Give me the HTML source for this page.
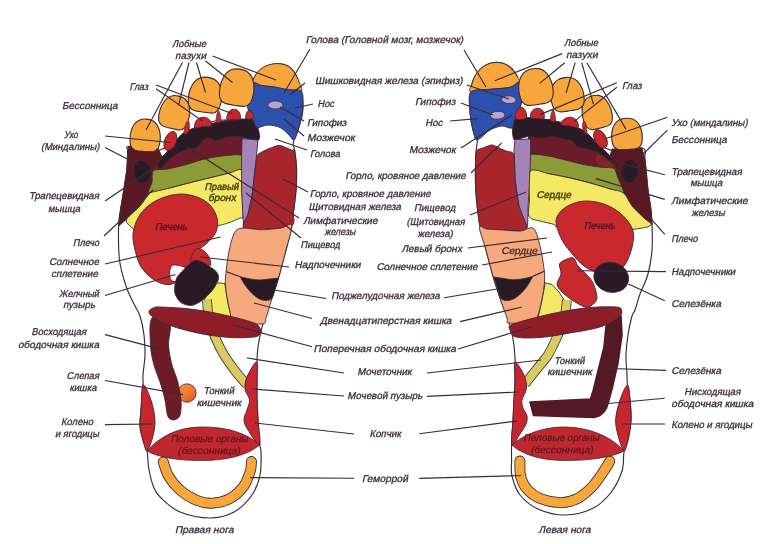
<!DOCTYPE html>
<html lang="ru"><head><meta charset="utf-8"><title>Рефлексология стопы</title>
<style>html,body{margin:0;padding:0;background:#fff;}body{width:770px;height:544px;overflow:hidden;}svg{display:block;will-change:transform;filter:blur(0.35px);}text{font-family:"Liberation Sans",sans-serif;}</style></head><body>
<svg width="770" height="544" viewBox="0 0 770 544">
<defs><linearGradient id="ball" x1="0.2" y1="0" x2="0.9" y2="1"><stop offset="0" stop-color="#f4933a"/><stop offset="0.5" stop-color="#ee7a31"/><stop offset="1" stop-color="#e2502b"/></linearGradient></defs>
<rect width="770" height="544" fill="#ffffff"/>
<g id="left-foot">
<path d="M129.5,146.5 C124.1,146.5 128.1,148.4 127.8,150.0 C127.5,151.6 127.8,152.7 127.6,156.0 C127.4,159.3 127.4,164.3 126.8,170.0 C126.2,175.7 124.8,183.3 123.8,190.0 C122.8,196.7 121.4,204.0 120.5,210.0 C119.6,216.0 118.8,217.7 118.6,226.0 C118.4,234.3 118.3,250.0 119.5,260.0 C120.7,270.0 123.6,278.7 126.0,286.0 C128.4,293.3 131.7,299.0 134.0,304.0 C136.3,309.0 138.3,310.8 140.0,316.0 C141.7,321.2 143.2,328.5 144.0,335.0 C144.8,341.5 145.2,348.3 145.0,355.0 C144.8,361.7 143.3,370.0 143.0,375.0 C142.7,380.0 143.3,379.2 143.0,385.0 C142.7,390.8 141.5,403.2 141.0,410.0 C140.5,416.8 139.7,421.0 140.0,426.0 C140.3,431.0 141.8,435.8 143.0,440.0 C144.2,444.2 146.0,446.0 147.0,451.0 C148.0,456.0 147.8,463.8 149.0,470.0 C150.2,476.2 152.0,483.3 154.0,488.0 C156.0,492.7 156.7,494.0 161.0,498.0 C165.3,502.0 171.8,508.7 180.0,512.0 C188.2,515.3 201.0,518.0 210.0,518.0 C219.0,518.0 227.0,515.8 234.0,512.0 C241.0,508.2 247.7,501.2 252.0,495.0 C256.3,488.8 258.5,482.2 260.0,475.0 C261.5,467.8 261.1,457.2 261.0,452.0 C260.9,446.8 260.1,449.3 259.6,444.0 C259.1,438.7 258.4,427.3 258.0,420.0 C257.6,412.7 257.2,406.7 257.0,400.0 C256.8,393.3 257.0,386.5 257.0,380.0 C257.0,373.5 256.8,366.5 257.0,361.0 C257.2,355.5 257.3,352.0 258.0,347.0 C258.7,342.0 259.3,337.7 261.0,331.0 C262.7,324.3 266.2,312.5 268.0,307.0 C269.8,301.5 270.2,303.2 272.0,298.0 C273.8,292.8 276.7,284.0 279.0,276.0 C281.3,268.0 283.9,258.0 286.0,250.0 C288.1,242.0 290.3,234.2 291.5,228.0 C292.7,221.8 292.7,217.7 293.3,213.0 C293.9,208.3 294.5,204.5 295.0,200.0 C295.5,195.5 296.1,191.3 296.3,186.0 C296.6,180.7 296.8,174.0 296.5,168.0 C296.2,162.0 295.2,153.8 294.6,150.0 C294.1,146.2 293.3,146.7 293.2,145.0 C293.1,143.3 293.2,142.5 294.0,140.0 C294.8,137.5 296.7,134.0 298.0,130.0 C299.3,126.0 301.2,120.3 302.0,116.0 C302.8,111.7 303.3,108.7 303.0,104.0 C302.7,99.3 301.2,92.8 300.0,88.0 C298.8,83.2 298.0,78.7 296.0,75.0 C294.0,71.3 291.2,67.9 288.0,66.0 C284.8,64.1 280.8,63.4 277.0,63.6 C273.2,63.8 268.5,65.1 265.0,67.0 C261.5,68.9 258.2,72.3 256.0,75.0 C253.8,77.7 252.9,79.2 251.6,83.0 C250.3,86.8 248.4,93.5 248.0,98.0 C247.6,102.5 248.0,106.0 249.0,110.0 C250.0,114.0 252.7,119.0 254.0,122.0 C255.3,125.0 259.3,128.3 257.0,128.0 C254.7,127.7 249.5,120.5 240.0,120.0 C230.5,119.5 213.3,120.0 200.0,125.0 C186.7,130.0 171.8,146.4 160.0,150.0 C148.2,153.6 134.9,146.5 129.5,146.5Z" fill="#ffffff" stroke="#3a2a36" stroke-width="1.15" stroke-linejoin="round" />
<path d="M129.0,146.0 L158.0,148.0 L162.0,157.0 L184.0,134.0 L204.0,125.0 L228.0,120.0 L243.0,119.0 L243.0,172.0 L149.0,193.0 L148.0,194.0 L140.0,206.0 L128.0,218.0 L118.6,226.0 L120.5,210.0 L123.8,190.0 L126.8,170.0 L127.6,156.0 L127.8,150.0Z" fill="#5b1823" stroke="#3a2a36" stroke-width="0.9" stroke-linejoin="round" />
<path d="M160.0,160.0 C163.5,155.7 170.0,149.2 175.0,145.0 C180.0,140.8 183.3,137.8 190.0,135.0 C196.7,132.2 206.3,129.5 215.0,128.0 C223.7,126.5 237.5,121.0 242.0,126.0 C246.5,131.0 245.0,152.8 242.0,158.0 C239.0,163.2 230.3,156.5 224.0,157.0 C217.7,157.5 211.3,159.2 204.0,161.0 C196.7,162.8 188.3,166.3 180.0,168.0 C171.7,169.7 157.3,172.3 154.0,171.0 C150.7,169.7 156.5,164.3 160.0,160.0Z" fill="#6b1c28" stroke="none" stroke-width="0.9" stroke-linejoin="round" />
<path d="M153.5,170.6 C155.6,168.9 163.4,169.8 167.6,169.0 C171.8,168.2 180.6,166.1 185.3,164.8 C190.0,163.5 198.3,160.5 203.0,159.4 C207.7,158.3 215.3,156.7 220.5,156.2 C225.7,155.7 239.1,153.6 242.0,155.5 C244.9,157.4 243.9,167.9 242.0,170.3 C240.1,172.7 233.1,172.3 228.0,173.5 C222.9,174.7 209.7,177.9 204.0,179.3 C198.3,180.7 190.2,182.8 185.3,184.0 C180.4,185.2 172.4,187.4 167.6,188.6 C162.8,189.8 151.1,193.9 149.0,193.0 C146.9,192.1 151.4,185.0 152.0,182.0 C152.6,179.0 151.4,172.3 153.5,170.6Z" fill="#8c9a38" stroke="#3a2a36" stroke-width="0.9" stroke-linejoin="round" />
<path d="M149.0,193.0 C152.3,191.9 161.5,190.1 167.6,188.6 C173.7,187.1 179.2,185.6 185.3,184.0 C191.4,182.4 196.9,181.1 204.0,179.3 C211.1,177.6 221.7,175.0 228.0,173.5 C234.3,172.0 239.7,167.6 242.0,170.3 C244.3,173.1 241.8,182.4 242.0,190.0 C242.2,197.6 243.3,211.3 243.0,216.0 C242.7,220.7 242.5,216.8 240.0,218.0 C237.5,219.2 232.0,221.7 228.0,223.0 C224.0,224.3 224.0,224.5 216.0,226.0 C208.0,227.5 192.7,231.1 180.0,232.0 C167.3,232.9 147.8,232.1 140.0,231.5 C132.2,230.9 135.0,229.8 133.0,228.5 C131.0,227.2 129.1,225.4 128.0,224.0 C126.9,222.6 125.8,221.6 126.3,220.0 C126.8,218.4 128.7,216.8 131.0,214.5 C133.3,212.2 137.2,209.2 140.0,206.0 C142.8,202.8 146.5,197.2 148.0,195.0 C149.5,192.8 145.7,194.1 149.0,193.0Z" fill="#f3e964" stroke="#3a2a36" stroke-width="0.9" stroke-linejoin="round" />
<path d="M157.5,164.0 C157.8,163.1 158.1,163.2 159.5,161.5 C160.9,159.8 163.3,157.2 165.9,154.0 C168.5,150.8 171.8,145.7 175.0,142.0 C178.2,138.3 180.6,134.3 185.3,131.6 C190.0,128.9 197.1,127.5 203.0,126.0 C208.9,124.5 214.6,123.3 220.5,122.3 C226.4,121.2 232.6,120.4 238.2,119.7 C243.8,119.0 250.9,118.0 254.0,118.2 C257.1,118.4 255.9,119.4 256.5,121.0 C257.1,122.6 257.3,125.4 257.8,127.6 C258.3,129.8 259.2,132.1 259.4,134.0 C259.6,135.9 260.1,137.7 259.2,139.0 C258.3,140.3 256.9,142.2 254.0,141.8 C251.1,141.4 245.8,137.7 241.7,136.8 C237.6,135.9 232.7,136.2 229.4,136.6 C226.1,137.0 224.1,138.3 222.0,139.0 C219.9,139.7 218.7,140.9 217.0,140.9 C215.3,140.9 213.5,139.6 212.0,139.0 C210.5,138.4 209.5,137.5 208.2,137.6 C206.9,137.7 205.2,138.7 204.0,139.5 C202.8,140.3 202.3,141.2 201.0,142.6 C199.7,144.0 198.5,146.8 195.9,148.0 C193.3,149.2 188.5,149.0 185.3,150.0 C182.1,151.0 179.4,152.2 176.5,154.0 C173.6,155.8 169.8,159.0 167.6,161.0 C165.3,163.0 164.2,164.8 163.0,166.0 C161.8,167.2 161.4,167.8 160.6,168.0 C159.8,168.2 158.5,167.7 158.0,167.0 C157.5,166.3 157.2,164.9 157.5,164.0Z" fill="#2a1a26" stroke="#3a2a36" stroke-width="0.9" stroke-linejoin="round" />
<ellipse cx="142" cy="171.8" rx="8.6" ry="11.7" fill="#2a1a26" stroke="#3a2a36" stroke-width="0.8" transform="rotate(-8 142 171.8)"/>
<path d="M242.0,138.5 L258.0,140.0 L255.0,170.0 L252.0,196.0 L248.0,214.0 L245.0,228.0 L243.6,228.0 L241.6,190.0 L241.6,156.0Z" fill="#a583b8" stroke="#3a2a36" stroke-width="0.9" stroke-linejoin="round" />
<path d="M257.0,157.0 C257.5,154.8 257.2,154.9 258.7,153.8 C260.2,152.7 266.0,149.9 268.0,149.0 C270.0,148.1 272.5,147.3 274.0,146.8 C275.5,146.3 277.8,145.3 279.0,145.3 C280.2,145.3 281.9,146.1 283.0,146.5 C284.1,146.9 285.6,147.5 286.9,148.0 C288.2,148.5 291.4,150.0 292.4,150.3 C293.4,150.6 294.1,147.9 294.6,150.3 C295.1,152.7 296.3,163.2 296.5,168.0 C296.7,172.8 296.5,181.7 296.3,186.0 C296.1,190.3 295.4,196.4 295.0,200.0 C294.6,203.6 293.9,209.5 293.3,213.0 C292.7,216.5 296.7,224.4 290.3,226.5 C283.9,228.6 250.6,230.2 245.0,228.5 C239.4,226.8 247.1,218.3 248.0,214.0 C248.9,209.7 251.1,201.9 252.0,196.0 C252.9,190.1 254.3,175.2 255.0,170.0 C255.7,164.8 256.5,159.2 257.0,157.0Z" fill="#a8252b" stroke="#3a2a36" stroke-width="0.9" stroke-linejoin="round" />
<path d="M252.8,82.4 C251.5,81.1 253.3,79.7 254.0,78.0 C254.7,76.3 255.7,74.2 257.0,72.5 C258.3,70.8 260.0,69.3 262.0,68.0 C264.0,66.7 266.5,65.5 269.0,64.8 C271.5,64.1 274.3,63.6 277.0,63.6 C279.7,63.6 282.7,64.0 285.0,64.8 C287.3,65.6 289.2,66.8 291.0,68.5 C292.8,70.2 294.7,72.8 296.0,75.0 C297.3,77.2 298.1,79.3 299.0,82.0 C299.9,84.7 303.2,89.8 301.2,91.0 C299.2,92.2 291.4,90.2 286.8,89.5 C282.2,88.8 277.7,87.5 273.5,86.8 C269.3,86.1 265.2,86.3 261.8,85.6 C258.4,84.9 254.1,83.7 252.8,82.4Z" fill="#f6a63a" stroke="#3a2a36" stroke-width="0.9" stroke-linejoin="round" />
<path d="M252.8,82.4 C254.7,81.5 258.7,84.9 261.8,85.6 C264.9,86.3 269.8,86.2 273.5,86.8 C277.2,87.4 282.6,88.9 286.8,89.5 C291.0,90.1 298.8,88.8 301.2,91.0 C303.6,93.2 303.0,100.2 303.0,104.0 C303.0,107.8 302.2,112.1 301.5,116.0 C300.8,119.9 299.1,126.4 298.0,130.0 C296.9,133.6 295.5,139.4 294.0,140.0 C292.5,140.6 290.1,135.9 288.0,134.0 C285.9,132.1 283.0,128.8 280.0,127.5 C277.0,126.2 271.4,125.0 268.0,125.0 C264.6,125.0 259.2,128.1 257.0,127.5 C254.8,126.9 254.8,123.5 253.5,121.0 C252.2,118.5 249.3,113.5 248.4,110.5 C247.5,107.5 247.1,103.8 247.2,101.0 C247.3,98.2 248.5,94.3 249.3,91.5 C250.1,88.7 250.9,83.3 252.8,82.4Z" fill="#2d4fae" stroke="#3a2a36" stroke-width="0.9" stroke-linejoin="round" />
<ellipse cx="275.4" cy="105" rx="7.6" ry="4" fill="#b2a6d8" stroke="#3a2a36" stroke-width="0.8"/>
<path d="M146.1,119.1 C148.3,119.2 150.6,119.6 152.4,120.6 C154.3,121.6 156.1,123.2 157.3,125.2 C158.6,127.3 159.5,130.2 159.9,132.8 C160.4,135.4 160.4,138.4 160.1,140.9 C159.8,143.5 159.3,146.2 158.2,148.0 C157.1,149.7 155.8,150.9 153.5,151.5 C151.2,152.0 147.5,151.6 144.5,151.5 C141.4,151.3 137.7,151.3 135.4,150.5 C133.2,149.7 132.0,148.4 131.1,146.6 C130.2,144.7 130.0,141.9 130.0,139.4 C129.9,136.8 130.3,133.9 131.0,131.3 C131.7,128.7 132.9,125.9 134.4,124.0 C135.9,122.1 137.8,120.7 139.8,119.9 C141.7,119.1 144.0,119.0 146.1,119.1Z" fill="#f6a63a" stroke="#3a2a36" stroke-width="1.1" stroke-linejoin="round" />
<path d="M178.9,96.1 C181.0,96.6 183.1,97.4 184.7,98.7 C186.4,100.1 187.8,102.0 188.6,104.3 C189.4,106.6 189.7,109.7 189.7,112.5 C189.6,115.2 189.0,118.2 188.2,120.7 C187.5,123.1 186.4,125.8 185.0,127.4 C183.6,128.9 182.1,129.8 179.7,130.0 C177.4,130.2 173.8,129.0 170.9,128.3 C168.0,127.6 164.3,126.9 162.3,125.6 C160.3,124.4 159.4,122.9 158.8,120.9 C158.3,118.8 158.7,116.0 159.1,113.4 C159.6,110.8 160.5,107.9 161.7,105.5 C163.0,103.1 164.7,100.4 166.5,98.8 C168.3,97.2 170.5,96.1 172.5,95.7 C174.6,95.2 176.9,95.6 178.9,96.1Z" fill="#f6a63a" stroke="#3a2a36" stroke-width="1.1" stroke-linejoin="round" />
<path d="M208.2,77.4 C210.5,77.8 213.0,78.4 214.9,79.7 C216.8,81.0 218.6,82.9 219.7,85.3 C220.8,87.6 221.5,90.9 221.7,93.7 C221.9,96.6 221.6,99.8 221.0,102.5 C220.4,105.1 219.5,108.1 218.1,109.8 C216.7,111.6 215.2,112.7 212.6,113.0 C210.1,113.4 206.0,112.5 202.8,112.0 C199.5,111.5 195.4,111.1 193.1,109.9 C190.7,108.8 189.6,107.3 188.8,105.2 C188.0,103.1 188.1,100.0 188.4,97.3 C188.6,94.6 189.3,91.4 190.4,88.8 C191.5,86.1 193.1,83.2 194.9,81.3 C196.7,79.5 199.0,78.2 201.2,77.5 C203.4,76.9 206.0,77.1 208.2,77.4Z" fill="#f6a63a" stroke="#3a2a36" stroke-width="1.1" stroke-linejoin="round" />
<path d="M240.1,69.1 C242.4,69.5 244.9,70.1 246.9,71.5 C248.9,72.9 250.7,74.9 251.9,77.3 C253.0,79.7 253.7,83.1 253.9,86.1 C254.1,89.1 253.7,92.5 253.1,95.3 C252.5,98.1 251.6,101.1 250.2,103.0 C248.8,104.8 247.1,105.9 244.5,106.3 C241.9,106.7 237.7,105.8 234.3,105.3 C231.0,104.7 226.7,104.3 224.3,103.1 C222.0,102.0 220.8,100.4 220.0,98.2 C219.2,96.0 219.3,92.8 219.6,90.0 C219.8,87.1 220.5,83.8 221.7,81.0 C222.8,78.2 224.5,75.2 226.3,73.2 C228.2,71.3 230.5,70.0 232.8,69.3 C235.1,68.6 237.7,68.8 240.1,69.1Z" fill="#f6a63a" stroke="#3a2a36" stroke-width="1.1" stroke-linejoin="round" />
<ellipse cx="170.4" cy="141" rx="5.8" ry="10" fill="#c9262c" stroke="#3a2a36" stroke-width="0.8" transform="rotate(22 170.4 141)"/>
<path d="M184.0,134.0 C183.5,132.7 185.2,125.0 186.0,123.0 C186.8,121.0 188.5,120.7 189.0,122.0 C189.5,123.3 189.8,129.0 189.0,131.0 C188.2,133.0 184.5,135.3 184.0,134.0Z" fill="#c9262c" stroke="#3a2a36" stroke-width="0.6" stroke-linejoin="round" />
<path d="M195.0,128.0 C193.8,127.1 195.0,122.8 196.0,121.0 C197.0,119.2 199.2,118.0 201.0,117.5 C202.8,117.0 205.3,117.2 207.0,118.0 C208.7,118.8 210.3,120.7 211.0,122.0 C211.7,123.3 212.3,125.2 211.0,126.0 C209.7,126.8 205.7,126.2 203.0,126.5 C200.3,126.8 196.2,128.9 195.0,128.0Z" fill="#c9262c" stroke="#3a2a36" stroke-width="0.9" stroke-linejoin="round" />
<path d="M216.0,122.0 C215.4,120.5 216.9,113.7 217.5,112.0 C218.1,110.3 218.9,110.5 219.5,112.0 C220.1,113.5 221.6,119.3 221.0,121.0 C220.4,122.7 216.6,123.5 216.0,122.0Z" fill="#c9262c" stroke="#3a2a36" stroke-width="0.6" stroke-linejoin="round" />
<path d="M227.0,119.5 C226.2,118.4 227.2,114.7 228.0,113.0 C228.8,111.3 230.5,110.0 232.0,109.5 C233.5,109.0 235.7,109.2 237.0,110.0 C238.3,110.8 239.5,112.5 240.0,114.0 C240.5,115.5 241.2,118.1 240.0,119.0 C238.8,119.9 235.2,119.4 233.0,119.5 C230.8,119.6 227.8,120.6 227.0,119.5Z" fill="#c9262c" stroke="#3a2a36" stroke-width="0.9" stroke-linejoin="round" />
<path d="M246.0,118.5 C244.9,117.4 246.3,113.3 247.0,112.0 C247.7,110.7 249.0,110.2 250.0,110.5 C251.0,110.8 252.4,112.7 253.0,114.0 C253.6,115.3 254.7,117.8 253.5,118.5 C252.3,119.2 247.1,119.6 246.0,118.5Z" fill="#c9262c" stroke="#3a2a36" stroke-width="0.9" stroke-linejoin="round" />
<path d="M133.0,234.0 C133.5,228.7 135.5,222.7 138.0,218.0 C140.5,213.3 144.0,209.3 148.0,206.0 C152.0,202.7 156.7,200.0 162.0,198.0 C167.3,196.0 174.2,194.2 180.0,194.0 C185.8,193.8 192.0,195.2 197.0,197.0 C202.0,198.8 206.7,201.5 210.0,205.0 C213.3,208.5 216.0,213.5 217.0,218.0 C218.0,222.5 217.8,227.7 216.0,232.0 C214.2,236.3 209.3,240.7 206.0,244.0 C202.7,247.3 198.7,248.3 196.0,252.0 C193.3,255.7 192.3,261.7 190.0,266.0 C187.7,270.3 185.3,274.9 182.0,278.0 C178.7,281.1 174.0,283.8 170.0,284.5 C166.0,285.2 161.7,283.6 158.0,282.0 C154.3,280.4 151.0,277.8 148.0,275.0 C145.0,272.2 142.2,269.2 140.0,265.0 C137.8,260.8 136.2,255.2 135.0,250.0 C133.8,244.8 132.5,239.3 133.0,234.0Z" fill="#c9282d" stroke="#3a2a36" stroke-width="0.9" stroke-linejoin="round" />
<path d="M169.6,272.0 C169.9,269.8 170.5,265.6 173.0,265.0 C175.5,264.4 184.4,266.4 186.0,268.0 C187.6,269.6 184.8,274.0 183.5,276.0 C182.2,278.0 178.9,280.9 177.0,281.5 C175.1,282.1 172.1,281.4 171.0,280.0 C169.9,278.6 169.3,274.2 169.6,272.0Z" fill="#ffffff" stroke="#3a2a36" stroke-width="0.9" stroke-linejoin="round" />
<path d="M191.0,258.0 C191.6,255.2 193.7,250.9 195.5,249.5 C197.3,248.1 199.8,248.2 202.0,249.5 C204.2,250.8 207.7,254.2 209.0,257.0 C210.3,259.8 211.5,263.8 210.0,266.0 C208.5,268.2 203.0,270.0 200.0,270.0 C197.0,270.0 193.5,268.0 192.0,266.0 C190.5,264.0 190.4,260.8 191.0,258.0Z" fill="#c9282d" stroke="#3a2a36" stroke-width="0.9" stroke-linejoin="round" />
<path d="M214.0,282.6 L224.8,283.4 L227.3,299.0 L230.4,313.5 L233.0,319.0 L206.0,319.0 L203.5,303.0 L207.0,292.0Z" fill="#f3e964" stroke="#3a2a36" stroke-width="0.9" stroke-linejoin="round" />
<path d="M207.0,300.0 C207.3,303.3 207.7,313.8 209.0,320.0 C210.3,326.2 212.5,331.2 215.0,337.0 C217.5,342.8 220.5,349.2 224.0,355.0 C227.5,360.8 232.2,367.0 236.0,372.0 C239.8,377.0 245.2,382.8 247.0,385.0" fill="none" stroke="#3a2a36" stroke-width="9.8" stroke-linecap="butt"/>
<path d="M207.0,300.0 C207.3,303.3 207.7,313.8 209.0,320.0 C210.3,326.2 212.5,331.2 215.0,337.0 C217.5,342.8 220.5,349.2 224.0,355.0 C227.5,360.8 232.2,367.0 236.0,372.0 C239.8,377.0 245.2,382.8 247.0,385.0" fill="none" stroke="#d8cb62" stroke-width="8.2" stroke-linecap="butt"/>
<path d="M174.6,288.5 C174.8,285.7 175.2,281.2 176.8,278.0 C178.4,274.8 181.2,272.3 184.1,269.4 C187.0,266.5 191.4,261.8 194.4,260.6 C197.4,259.4 199.5,261.0 202.0,262.0 C204.5,263.0 207.1,264.8 209.5,266.5 C211.9,268.2 215.0,269.9 216.5,272.0 C218.0,274.1 219.1,276.0 218.4,279.0 C217.7,282.0 215.2,286.5 212.5,290.0 C209.8,293.5 206.0,297.4 202.5,300.0 C199.0,302.6 195.1,305.0 191.5,305.4 C187.9,305.8 183.7,304.2 181.0,302.5 C178.3,300.8 176.7,297.3 175.6,295.0 C174.5,292.7 174.4,291.3 174.6,288.5Z" fill="#2a1a26" stroke="#3a2a36" stroke-width="0.9" stroke-linejoin="round" />
<path d="M236.0,230.5 C238.2,228.3 240.5,228.1 244.8,228.0 C249.1,227.9 256.0,229.8 262.0,229.8 C268.0,229.8 276.1,228.7 281.0,228.0 C285.9,227.3 290.7,221.8 291.5,225.5 C292.3,229.2 288.1,241.6 286.0,250.0 C283.9,258.4 281.3,268.0 279.0,276.0 C276.7,284.0 274.2,291.0 272.0,298.0 C269.8,305.0 267.7,313.7 266.0,318.0 C264.3,322.3 267.5,323.5 262.0,324.0 C256.5,324.5 238.3,322.8 233.0,321.0 C227.7,319.2 231.3,317.2 230.4,313.5 C229.5,309.8 228.2,303.9 227.3,299.0 C226.5,294.1 225.5,288.8 225.3,284.0 C225.1,279.2 225.8,274.8 226.3,270.0 C226.8,265.2 227.4,259.8 228.3,255.0 C229.2,250.2 230.2,245.1 231.5,241.0 C232.8,236.9 233.8,232.7 236.0,230.5Z" fill="#f5a97d" stroke="#3a2a36" stroke-width="0.9" stroke-linejoin="round" />
<path d="M226.4,271.6 C236,276 248,279.5 260,280 L278.5,278 L272.5,297.5 C269,302 262,301 257,297.5 C249,292 244,284 240,276.5 Z" fill="#2a1a26" stroke="#3a2a36" stroke-width="0.8"/>
<circle cx="187" cy="393" r="9.2" fill="url(#ball)" stroke="#3a2a36" stroke-width="0.8"/>
<path d="M152.0,318.0 C148.8,321.7 150.2,337.2 150.5,345.0 C150.8,352.8 152.2,358.3 154.0,365.0 C155.8,371.7 159.2,379.2 161.0,385.0 C162.8,390.8 164.0,395.3 165.0,400.0 C166.0,404.7 166.3,410.0 167.0,413.0 C167.7,416.0 167.9,416.8 169.0,418.0 C170.1,419.2 172.0,420.0 173.5,420.0 C175.0,420.0 176.8,419.2 178.0,418.0 C179.2,416.8 180.0,416.0 180.5,413.0 C181.0,410.0 181.5,405.3 181.0,400.0 C180.5,394.7 179.0,386.8 177.5,381.0 C176.0,375.2 173.5,371.0 172.0,365.0 C170.5,359.0 168.9,352.0 168.5,345.0 C168.1,338.0 172.2,327.5 169.5,323.0 C166.8,318.5 155.2,314.3 152.0,318.0Z" fill="#6f1b27" stroke="#3a2a36" stroke-width="0.9" stroke-linejoin="round" />
<path d="M149.0,311.5 C149.0,310.0 151.2,308.8 153.0,308.0 C154.8,307.2 153.8,306.8 160.0,307.0 C166.2,307.2 180.0,307.8 190.0,309.0 C200.0,310.2 209.3,311.7 220.0,314.0 C230.7,316.3 247.2,320.2 254.0,323.0 C260.8,325.8 260.0,329.2 261.0,331.0 C262.0,332.8 261.2,333.0 260.0,334.0 C258.8,335.0 259.0,336.4 254.0,337.0 C249.0,337.6 239.0,338.1 230.0,337.5 C221.0,336.9 210.0,335.5 200.0,333.5 C190.0,331.5 177.8,328.2 170.0,325.5 C162.2,322.8 156.5,319.3 153.0,317.0 C149.5,314.7 149.0,313.0 149.0,311.5Z" fill="#8f1d28" stroke="#3a2a36" stroke-width="0.9" stroke-linejoin="round" />
<path d="M256.5,362.0 C254.8,361.5 248.9,372.5 247.0,377.0 C245.1,381.5 244.6,385.2 245.0,389.0 C245.4,392.8 249.2,396.5 249.5,400.0 C249.8,403.5 247.9,406.7 247.0,410.0 C246.1,413.3 243.8,416.7 244.0,420.0 C244.2,423.3 245.4,425.8 248.0,430.0 C250.6,434.2 257.9,446.7 259.6,445.0 C261.3,443.3 258.4,427.5 258.0,420.0 C257.6,412.5 257.2,406.7 257.0,400.0 C256.8,393.3 257.1,386.3 257.0,380.0 C256.9,373.7 258.2,362.5 256.5,362.0Z" fill="#c8262e" stroke="#3a2a36" stroke-width="0.9" stroke-linejoin="round" />
<path d="M143.0,385.0 C144.7,383.3 149.0,394.2 151.0,400.0 C153.0,405.8 154.7,414.0 155.0,420.0 C155.3,426.0 154.3,430.8 153.0,436.0 C151.7,441.2 148.7,450.3 147.0,451.0 C145.3,451.7 144.2,444.2 143.0,440.0 C141.8,435.8 140.3,431.0 140.0,426.0 C139.7,421.0 140.5,416.8 141.0,410.0 C141.5,403.2 141.3,386.7 143.0,385.0Z" fill="#c8262e" stroke="#3a2a36" stroke-width="0.9" stroke-linejoin="round" />
<path d="M147,451 C160,436 178,427.5 200,427 C228,426.5 248,434 259.6,445 C246,456 226,460.5 200,460.5 C176,460.5 158,457 147,451 Z" fill="#c1272e" stroke="#3a2a36" stroke-width="0.8"/>
<path d="M163.3,462.0 C164.2,464.3 165.7,471.3 168.5,476.0 C171.3,480.7 175.3,485.9 180.0,490.0 C184.7,494.1 191.2,498.1 196.5,500.3 C201.8,502.5 206.4,503.5 212.0,503.2 C217.6,502.9 224.8,501.3 230.0,498.5 C235.2,495.7 240.1,491.1 243.5,486.5 C246.9,481.9 249.0,475.2 250.3,471.0 C251.6,466.8 251.3,463.1 251.5,461.5" fill="none" stroke="#3a2a36" stroke-width="10.9" stroke-linecap="round"/>
<path d="M163.3,462.0 C164.2,464.3 165.7,471.3 168.5,476.0 C171.3,480.7 175.3,485.9 180.0,490.0 C184.7,494.1 191.2,498.1 196.5,500.3 C201.8,502.5 206.4,503.5 212.0,503.2 C217.6,502.9 224.8,501.3 230.0,498.5 C235.2,495.7 240.1,491.1 243.5,486.5 C246.9,481.9 249.0,475.2 250.3,471.0 C251.6,466.8 251.3,463.1 251.5,461.5" fill="none" stroke="#f6a63a" stroke-width="9.2" stroke-linecap="round"/>
</g>
<g id="right-foot">
<path d="M642.0,148.0 C647.8,149.7 644.0,153.0 645.0,160.0 C646.0,167.0 647.0,181.7 648.0,190.0 C649.0,198.3 650.3,204.3 651.0,210.0 C651.7,215.7 651.8,217.3 652.0,224.0 C652.2,230.7 652.7,241.7 652.0,250.0 C651.3,258.3 650.0,266.7 648.0,274.0 C646.0,281.3 642.2,288.0 640.0,294.0 C637.8,300.0 636.3,306.3 635.0,310.0 C633.7,313.7 633.2,311.8 632.0,316.0 C630.8,320.2 629.0,328.5 628.0,335.0 C627.0,341.5 626.2,348.3 626.0,355.0 C625.8,361.7 626.8,370.0 627.0,375.0 C627.2,380.0 627.0,380.8 627.5,385.0 C628.0,389.2 629.4,394.2 630.0,400.0 C630.6,405.8 631.3,413.3 631.0,420.0 C630.7,426.7 629.2,434.7 628.0,440.0 C626.8,445.3 625.0,446.8 624.0,452.0 C623.0,457.2 624.2,464.2 622.0,471.0 C619.8,477.8 615.9,486.2 611.0,492.5 C606.1,498.8 600.1,504.8 592.5,508.5 C584.9,512.2 574.4,514.8 565.5,515.0 C556.6,515.2 546.6,512.8 539.0,509.5 C531.4,506.2 524.5,500.6 520.0,495.0 C515.5,489.4 513.4,481.8 512.0,476.0 C510.6,470.2 511.7,465.3 511.6,460.0 C511.5,454.7 511.4,450.7 511.6,444.0 C511.8,437.3 512.6,427.3 513.0,420.0 C513.4,412.7 513.7,406.7 514.0,400.0 C514.3,393.3 514.8,387.2 515.0,380.0 C515.2,372.8 515.4,364.3 515.0,357.0 C514.6,349.7 513.7,342.3 512.5,336.0 C511.3,329.7 510.1,325.3 508.0,319.0 C505.9,312.7 502.5,305.2 500.0,298.0 C497.5,290.8 495.3,284.0 493.0,276.0 C490.7,268.0 488.0,258.0 486.0,250.0 C484.0,242.0 482.4,234.7 481.0,228.0 C479.6,221.3 478.5,216.3 477.6,210.0 C476.7,203.7 476.2,196.7 475.8,190.0 C475.4,183.3 475.3,176.7 475.4,170.0 C475.5,163.3 475.9,154.3 476.2,150.0 C476.5,145.7 476.9,145.7 477.0,144.0 C477.1,142.3 477.7,142.3 477.0,140.0 C476.3,137.7 474.2,134.7 473.0,130.0 C471.8,125.3 470.4,118.3 470.0,112.0 C469.6,105.7 469.8,97.7 470.5,92.0 C471.2,86.3 471.9,82.2 474.0,78.0 C476.1,73.8 479.3,69.6 483.0,67.0 C486.7,64.4 491.8,62.6 496.0,62.4 C500.2,62.1 504.7,63.6 508.0,65.5 C511.3,67.4 514.2,71.2 516.0,74.0 C517.8,76.8 518.0,78.7 519.0,82.0 C520.0,85.3 521.8,90.0 522.0,94.0 C522.2,98.0 521.7,102.0 520.5,106.0 C519.3,110.0 513.4,116.0 515.0,118.0 C516.6,120.0 520.8,116.7 530.0,118.0 C539.2,119.3 556.7,120.7 570.0,126.0 C583.3,131.3 598.0,146.3 610.0,150.0 C622.0,153.7 636.2,146.3 642.0,148.0Z" fill="#ffffff" stroke="#3a2a36" stroke-width="1.15" stroke-linejoin="round" />
<path d="M642.0,148.0 L612.0,149.0 L610.0,156.0 L590.0,136.0 L570.0,126.0 L550.0,120.0 L530.0,118.0 L530.0,172.0 L623.0,194.0 L632.0,206.0 L644.0,218.0 L652.0,225.0 L651.0,210.0 L648.0,190.0 L645.0,160.0Z" fill="#5b1823" stroke="#3a2a36" stroke-width="0.9" stroke-linejoin="round" />
<path d="M613.0,162.0 C610.7,158.3 604.7,152.0 600.0,148.0 C595.3,144.0 590.8,141.0 585.0,138.0 C579.2,135.0 571.7,132.0 565.0,130.0 C558.3,128.0 550.8,126.7 545.0,126.0 C539.2,125.3 532.5,120.7 530.0,126.0 C527.5,131.3 526.7,152.8 530.0,158.0 C533.3,163.2 543.3,156.5 550.0,157.0 C556.7,157.5 563.3,159.5 570.0,161.0 C576.7,162.5 582.7,164.5 590.0,166.0 C597.3,167.5 610.2,170.7 614.0,170.0 C617.8,169.3 615.3,165.7 613.0,162.0Z" fill="#6b1c28" stroke="none" stroke-width="0.9" stroke-linejoin="round" />
<path d="M598.0,155.0 C599.3,154.5 602.0,155.9 604.0,157.0 C606.0,158.1 608.5,160.1 610.0,161.5 C611.5,162.9 612.8,164.3 613.0,165.5 C613.2,166.7 613.0,168.2 611.5,168.5 C610.0,168.8 606.2,167.7 604.0,167.0 C601.8,166.3 599.8,165.7 598.5,164.5 C597.2,163.3 596.1,161.6 596.0,160.0 C595.9,158.4 596.7,155.5 598.0,155.0Z" fill="#85232d" stroke="none" stroke-width="0.9" stroke-linejoin="round" />
<path d="M530.0,155.0 C532.5,153.0 544.1,155.5 549.0,156.2 C553.9,156.9 562.0,159.2 566.7,160.3 C571.4,161.4 579.7,163.8 584.4,164.7 C589.1,165.6 598.1,166.8 602.0,167.3 C605.9,167.8 611.9,167.1 614.0,168.5 C616.1,169.9 616.7,174.7 618.0,178.0 C619.3,181.3 624.6,191.5 623.5,193.0 C622.4,194.5 614.5,190.3 610.0,189.0 C605.5,187.7 595.3,184.5 590.0,183.0 C584.7,181.5 575.3,179.2 570.0,178.0 C564.7,176.8 555.3,174.9 550.0,174.0 C544.7,173.1 532.7,174.0 530.0,171.5 C527.3,169.0 527.5,157.0 530.0,155.0Z" fill="#8c9a38" stroke="#3a2a36" stroke-width="0.9" stroke-linejoin="round" />
<path d="M530.0,171.5 C533.4,167.2 543.3,172.9 550.0,174.0 C556.7,175.1 563.3,176.5 570.0,178.0 C576.7,179.5 583.3,181.2 590.0,183.0 C596.7,184.8 604.4,187.3 610.0,189.0 C615.6,190.7 619.8,190.2 623.5,193.0 C627.2,195.8 628.6,201.8 632.0,206.0 C635.4,210.2 640.8,214.8 644.0,218.0 C647.2,221.2 652.3,223.2 651.0,225.0 C649.7,226.8 644.5,227.7 636.0,229.0 C627.5,230.3 612.7,233.2 600.0,233.0 C587.3,232.8 567.7,229.4 560.0,228.0 C552.3,226.6 557.3,225.7 554.0,224.5 C550.7,223.3 544.2,222.3 540.0,221.0 C535.8,219.7 530.8,220.0 529.0,216.5 C527.2,213.0 529.3,207.5 529.5,200.0 C529.7,192.5 526.6,175.8 530.0,171.5Z" fill="#f3e964" stroke="#3a2a36" stroke-width="0.9" stroke-linejoin="round" />
<path d="M515.6,118.8 C518.8,117.2 525.9,117.8 531.5,118.0 C537.1,118.2 543.1,118.7 549.0,119.7 C554.9,120.7 560.8,122.1 566.7,124.0 C572.6,125.9 579.4,127.8 584.4,131.0 C589.4,134.2 592.9,139.8 596.7,143.5 C600.5,147.2 604.6,150.2 607.3,153.0 C610.0,155.8 611.9,158.2 613.0,160.0 C614.1,161.8 614.5,163.2 614.0,163.5 C613.5,163.8 611.4,162.5 610.0,161.5 C608.6,160.5 607.7,159.3 605.5,157.6 C603.3,155.9 600.2,152.9 596.7,151.4 C593.2,149.9 587.5,149.5 584.4,148.8 C581.3,148.1 579.5,147.6 578.0,147.0 C576.5,146.4 576.5,146.0 575.5,145.0 C574.5,144.0 574.0,142.0 572.0,141.0 C570.0,140.0 566.4,139.7 563.2,139.0 C560.0,138.3 556.4,136.7 552.6,136.6 C548.8,136.5 544.4,138.2 540.3,138.2 C536.2,138.2 532.1,136.3 528.0,136.6 C523.9,136.9 518.1,140.0 515.6,140.0 C513.1,140.0 513.5,138.6 513.0,136.5 C512.5,134.4 512.2,130.5 512.6,127.6 C513.0,124.6 512.5,120.4 515.6,118.8Z" fill="#2a1a26" stroke="#3a2a36" stroke-width="0.9" stroke-linejoin="round" />
<ellipse cx="629.8" cy="171.3" rx="8.5" ry="11.6" fill="#2a1a26" stroke="#3a2a36" stroke-width="0.8" transform="rotate(8 629.8 171.3)"/>
<path d="M515.0,139.5 L530.6,139.0 L530.4,160.0 L529.3,185.0 L528.2,205.0 L527.6,227.0 L526.5,227.0 L519.0,206.0 L515.2,180.0 L514.0,150.0Z" fill="#a583b8" stroke="#3a2a36" stroke-width="0.9" stroke-linejoin="round" />
<path d="M476.3,151.5 C477.3,148.6 481.0,148.9 483.0,148.0 C485.0,147.1 489.7,145.1 491.4,144.9 C493.1,144.7 494.7,145.9 496.0,146.4 C497.3,146.9 499.9,148.3 501.4,149.0 C502.9,149.7 505.3,150.5 507.0,151.3 C508.7,152.1 512.9,151.0 514.0,154.8 C515.1,158.6 514.3,173.2 515.0,180.0 C515.7,186.8 517.4,199.7 519.0,206.0 C520.6,212.3 526.9,224.2 527.0,227.5 C527.1,230.8 523.6,230.7 520.0,231.0 C516.4,231.3 504.4,230.1 500.0,229.8 C495.6,229.5 489.6,229.3 487.0,229.0 C484.4,228.7 481.5,230.0 480.2,227.5 C478.9,225.0 478.2,215.0 477.6,210.0 C477.0,205.0 476.1,195.3 475.8,190.0 C475.5,184.7 475.3,175.1 475.4,170.0 C475.5,164.9 475.3,154.4 476.3,151.5Z" fill="#a8252b" stroke="#3a2a36" stroke-width="0.9" stroke-linejoin="round" />
<path d="M470.8,92.0 C467.8,91.1 471.4,86.5 472.0,84.0 C472.6,81.5 473.4,79.2 474.5,77.0 C475.6,74.8 477.0,72.8 478.5,71.0 C480.0,69.2 481.7,67.8 483.5,66.5 C485.3,65.2 487.4,64.2 489.5,63.5 C491.6,62.8 493.8,62.4 496.0,62.4 C498.2,62.4 500.8,62.6 503.0,63.3 C505.2,64.0 507.2,65.1 509.0,66.5 C510.8,67.9 512.6,69.8 514.0,71.5 C515.4,73.2 516.6,75.2 517.5,77.0 C518.4,78.8 520.5,80.3 519.3,82.0 C518.0,83.7 514.9,86.1 510.0,87.3 C505.1,88.5 496.5,88.5 490.0,89.3 C483.5,90.1 473.8,92.9 470.8,92.0Z" fill="#f6a63a" stroke="#3a2a36" stroke-width="0.9" stroke-linejoin="round" />
<path d="M470.8,92.0 C473.8,88.6 484.1,90.0 490.0,89.3 C495.9,88.6 505.6,88.4 510.0,87.3 C514.4,86.2 517.5,81.0 519.3,82.0 C521.1,83.0 521.8,90.4 522.0,94.0 C522.2,97.6 521.5,102.5 520.5,106.0 C519.5,109.5 516.3,113.7 515.0,117.0 C513.7,120.3 514.0,126.7 512.0,128.0 C510.1,129.3 505.3,125.7 502.0,126.0 C498.7,126.3 493.8,127.9 490.0,130.0 C486.2,132.1 479.6,140.0 477.0,140.0 C474.4,140.0 474.1,134.2 473.0,130.0 C471.9,125.8 470.3,117.7 470.0,112.0 C469.7,106.3 467.8,95.4 470.8,92.0Z" fill="#2d4fae" stroke="#3a2a36" stroke-width="0.9" stroke-linejoin="round" />
<ellipse cx="508.8" cy="99.7" rx="7.4" ry="3.9" fill="#b2a6d8" stroke="#3a2a36" stroke-width="0.8" transform="rotate(4 508.6 99)"/>
<ellipse cx="497.5" cy="115.3" rx="7.4" ry="4" fill="#b2a6d8" stroke="#3a2a36" stroke-width="0.8" transform="rotate(-4 497 115)"/>
<path d="M626.0,118.3 C628.1,118.2 630.5,118.3 632.5,119.1 C634.4,119.9 636.4,121.2 637.9,123.0 C639.3,124.8 640.6,127.6 641.3,130.0 C642.0,132.5 642.3,135.3 642.3,137.8 C642.3,140.2 642.1,142.9 641.2,144.7 C640.2,146.5 639.0,147.7 636.8,148.5 C634.5,149.3 630.7,149.3 627.6,149.5 C624.6,149.6 620.8,150.0 618.4,149.5 C616.1,148.9 614.8,147.8 613.7,146.1 C612.5,144.5 612.0,141.8 611.8,139.4 C611.5,136.9 611.5,134.1 612.0,131.6 C612.4,129.0 613.4,126.2 614.6,124.2 C615.9,122.3 617.7,120.7 619.6,119.7 C621.5,118.8 623.8,118.4 626.0,118.3Z" fill="#f6a63a" stroke="#3a2a36" stroke-width="1.1" stroke-linejoin="round" />
<path d="M592.5,95.8 C594.5,95.3 596.7,95.0 598.7,95.4 C600.7,95.9 602.9,96.9 604.6,98.6 C606.4,100.2 608.1,102.9 609.3,105.3 C610.5,107.7 611.4,110.6 611.9,113.2 C612.4,115.8 612.7,118.6 612.2,120.6 C611.7,122.7 610.8,124.2 608.9,125.4 C606.9,126.6 603.3,127.3 600.5,128.0 C597.7,128.7 594.2,129.8 591.9,129.6 C589.6,129.5 588.1,128.6 586.7,127.0 C585.3,125.4 584.3,122.8 583.5,120.3 C582.8,117.8 582.2,114.8 582.1,112.1 C582.0,109.4 582.3,106.2 583.1,104.0 C583.9,101.7 585.2,99.8 586.8,98.4 C588.4,97.0 590.5,96.3 592.5,95.8Z" fill="#f6a63a" stroke="#3a2a36" stroke-width="1.1" stroke-linejoin="round" />
<path d="M564.4,77.6 C566.7,77.2 569.2,77.1 571.4,77.7 C573.6,78.3 575.9,79.5 577.7,81.3 C579.4,83.1 581.0,85.9 582.1,88.4 C583.2,91.0 583.8,94.0 584.1,96.6 C584.3,99.2 584.4,102.1 583.6,104.2 C582.8,106.2 581.7,107.6 579.3,108.7 C577.0,109.9 572.9,110.3 569.6,110.8 C566.4,111.3 562.3,112.2 559.8,111.8 C557.2,111.5 555.7,110.5 554.3,108.8 C552.9,107.1 552.1,104.3 551.5,101.8 C550.9,99.2 550.6,96.1 550.8,93.4 C551.1,90.6 551.7,87.5 552.9,85.2 C554.0,83.0 555.8,81.1 557.7,79.9 C559.6,78.6 562.1,78.0 564.4,77.6Z" fill="#f6a63a" stroke="#3a2a36" stroke-width="1.1" stroke-linejoin="round" />
<path d="M532.6,68.8 C534.9,68.4 537.5,68.3 539.8,68.9 C542.1,69.6 544.4,70.9 546.3,72.8 C548.2,74.8 549.8,77.8 551.0,80.5 C552.1,83.2 552.8,86.5 553.0,89.3 C553.3,92.1 553.4,95.2 552.6,97.4 C551.8,99.5 550.6,101.1 548.2,102.2 C545.8,103.4 541.6,103.8 538.2,104.4 C534.9,104.9 530.7,105.8 528.1,105.4 C525.4,105.1 523.8,104.0 522.4,102.1 C520.9,100.3 520.1,97.4 519.5,94.6 C518.8,91.8 518.5,88.5 518.7,85.6 C518.9,82.6 519.6,79.3 520.8,76.9 C521.9,74.5 523.8,72.5 525.7,71.2 C527.7,69.8 530.2,69.2 532.6,68.8Z" fill="#f6a63a" stroke="#3a2a36" stroke-width="1.1" stroke-linejoin="round" />
<ellipse cx="600.5" cy="139" rx="5.8" ry="10" fill="#c9262c" stroke="#3a2a36" stroke-width="0.8" transform="rotate(-28 600.5 139)"/>
<path d="M587.0,134.0 C587.4,132.8 586.2,125.0 585.5,123.0 C584.8,121.0 583.4,120.8 583.0,122.0 C582.6,123.2 582.3,128.0 583.0,130.0 C583.7,132.0 586.6,135.2 587.0,134.0Z" fill="#c9262c" stroke="#3a2a36" stroke-width="0.6" stroke-linejoin="round" />
<path d="M578.0,127.5 C579.2,126.7 578.0,122.7 577.0,121.0 C576.0,119.3 573.8,118.0 572.0,117.5 C570.2,117.0 567.8,117.2 566.0,118.0 C564.2,118.8 562.2,120.8 561.5,122.0 C560.8,123.2 560.1,124.3 561.5,125.0 C562.9,125.7 567.2,125.6 570.0,126.0 C572.8,126.4 576.8,128.3 578.0,127.5Z" fill="#c9262c" stroke="#3a2a36" stroke-width="0.9" stroke-linejoin="round" />
<path d="M555.5,121.0 C556.1,119.5 554.6,112.7 554.0,111.0 C553.4,109.3 552.6,109.5 552.0,111.0 C551.4,112.5 549.9,118.3 550.5,120.0 C551.1,121.7 554.9,122.5 555.5,121.0Z" fill="#c9262c" stroke="#3a2a36" stroke-width="0.6" stroke-linejoin="round" />
<path d="M544.0,118.5 C544.9,117.4 544.2,113.7 543.5,112.0 C542.8,110.3 541.0,109.0 539.5,108.5 C538.0,108.0 535.9,108.2 534.5,109.0 C533.1,109.8 531.6,111.5 531.0,113.0 C530.4,114.5 529.8,117.1 531.0,118.0 C532.2,118.9 535.8,118.4 538.0,118.5 C540.2,118.6 543.1,119.6 544.0,118.5Z" fill="#c9262c" stroke="#3a2a36" stroke-width="0.9" stroke-linejoin="round" />
<path d="M526.0,118.5 C527.6,117.2 526.2,112.8 525.5,111.0 C524.8,109.2 523.3,107.8 522.0,107.5 C520.7,107.2 518.6,107.9 517.5,109.0 C516.4,110.1 515.8,112.3 515.5,114.0 C515.2,115.7 514.2,118.2 516.0,119.0 C517.8,119.8 524.4,119.8 526.0,118.5Z" fill="#c9262c" stroke="#3a2a36" stroke-width="0.9" stroke-linejoin="round" />
<path d="M556.0,222.0 C555.8,217.2 558.3,214.0 561.0,211.0 C563.7,208.0 567.8,205.7 572.0,204.0 C576.2,202.3 580.7,201.0 586.0,201.0 C591.3,201.0 598.3,202.0 604.0,204.0 C609.7,206.0 615.5,209.3 620.0,213.0 C624.5,216.7 628.8,221.8 631.0,226.0 C633.2,230.2 633.7,233.3 633.5,238.0 C633.3,242.7 631.8,249.2 630.0,254.0 C628.2,258.8 626.3,264.0 623.0,267.0 C619.7,270.0 614.5,271.2 610.0,272.0 C605.5,272.8 600.3,273.0 596.0,272.0 C591.7,271.0 587.7,268.7 584.0,266.0 C580.3,263.3 577.7,260.3 574.0,256.0 C570.3,251.7 565.0,245.7 562.0,240.0 C559.0,234.3 556.2,226.8 556.0,222.0Z" fill="#c9282d" stroke="#3a2a36" stroke-width="0.9" stroke-linejoin="round" />
<path d="M544.0,282.5 L552.0,284.5 L559.0,292.0 L563.5,299.0 L569.0,316.0 L538.0,318.0 L542.0,300.0 L545.0,284.0Z" fill="#f3e964" stroke="#3a2a36" stroke-width="0.9" stroke-linejoin="round" />
<path d="M567.0,300.0 C566.5,303.3 565.7,313.8 564.0,320.0 C562.3,326.2 559.7,331.2 557.0,337.0 C554.3,342.8 551.5,349.5 548.0,355.0 C544.5,360.5 539.8,365.2 536.0,370.0 C532.2,374.8 526.8,381.7 525.0,384.0" fill="none" stroke="#3a2a36" stroke-width="9.8"/>
<path d="M567.0,300.0 C566.5,303.3 565.7,313.8 564.0,320.0 C562.3,326.2 559.7,331.2 557.0,337.0 C554.3,342.8 551.5,349.5 548.0,355.0 C544.5,360.5 539.8,365.2 536.0,370.0 C532.2,374.8 526.8,381.7 525.0,384.0" fill="none" stroke="#d8cb62" stroke-width="8.2"/>
<path d="M559.5,264.0 C560.3,261.6 563.7,260.5 566.0,259.5 C568.3,258.5 571.5,256.9 573.5,258.0 C575.5,259.1 575.9,263.3 578.0,266.0 C580.1,268.7 583.5,271.2 586.0,274.0 C588.5,276.8 591.2,279.0 593.0,283.0 C594.8,287.0 597.2,294.3 597.0,298.0 C596.8,301.7 594.0,303.5 592.0,305.0 C590.0,306.5 588.3,307.8 585.0,307.0 C581.7,306.2 575.8,302.5 572.0,300.0 C568.2,297.5 564.5,294.7 562.0,292.0 C559.5,289.3 557.2,287.0 557.0,284.0 C556.8,281.0 560.6,277.3 561.0,274.0 C561.4,270.7 558.7,266.4 559.5,264.0Z" fill="#c9282d" stroke="#3a2a36" stroke-width="0.9" stroke-linejoin="round" />
<ellipse cx="611.3" cy="277.4" rx="17.6" ry="15" fill="#2a1a26" stroke="#3a2a36" stroke-width="0.8" transform="rotate(15 611.5 277)"/>
<path d="M479.5,227.5 C479.7,224.0 483.6,228.6 487.0,229.0 C490.4,229.4 494.5,229.5 500.0,229.8 C505.5,230.1 515.3,231.2 520.0,231.0 C524.7,230.8 525.6,228.8 528.0,228.5 C530.4,228.2 532.4,226.4 534.3,229.0 C536.2,231.6 538.0,238.0 539.5,244.0 C541.0,250.0 542.6,258.8 543.5,265.0 C544.4,271.2 544.9,275.2 544.6,281.0 C544.3,286.8 542.9,294.2 541.8,300.0 C540.6,305.8 539.0,312.3 537.7,316.0 C536.4,319.7 538.8,320.8 534.0,322.0 C529.2,323.2 513.5,323.7 509.0,323.0 C504.5,322.3 508.5,322.2 507.0,318.0 C505.5,313.8 502.3,305.0 500.0,298.0 C497.7,291.0 495.3,284.0 493.0,276.0 C490.7,268.0 488.2,258.1 486.0,250.0 C483.8,241.9 479.3,231.0 479.5,227.5Z" fill="#f5a97d" stroke="#3a2a36" stroke-width="0.9" stroke-linejoin="round" />
<path d="M544.5,271 C537,275.5 526,279.5 512,279.8 L493.8,277 L500.5,298 C504,302 511,301 516,297.5 C524,292 529,284 533,276 Z" fill="#2a1a26" stroke="#3a2a36" stroke-width="0.8"/>
<path d="M606.0,326.0 L621.0,316.0 L622.0,335.0 L618.0,363.0 L612.0,389.0 L608.5,402.0 L606.5,408.0 L603.5,412.5 L599.5,415.8 L594.0,417.5 L533.5,415.5 L530.0,402.0 L590.5,399.0 L593.0,391.0 L598.0,371.0 L604.0,347.0Z" fill="#551926" stroke="#551926" stroke-width="1.6" stroke-linejoin="round" />
<path d="M510.0,330.0 C509.2,328.0 507.7,326.8 511.0,325.0 C514.3,323.2 521.8,321.2 530.0,319.0 C538.2,316.8 550.0,313.9 560.0,312.0 C570.0,310.1 580.7,308.3 590.0,307.5 C599.3,306.7 610.8,306.6 616.0,307.0 C621.2,307.4 621.0,308.3 621.5,310.0 C622.0,311.7 622.6,314.2 619.0,317.0 C615.4,319.8 608.2,324.3 600.0,327.0 C591.8,329.7 580.0,331.2 570.0,333.0 C560.0,334.8 549.0,336.8 540.0,337.5 C531.0,338.2 521.0,338.2 516.0,337.0 C511.0,335.8 510.8,332.0 510.0,330.0Z" fill="#8f1d28" stroke="#3a2a36" stroke-width="0.9" stroke-linejoin="round" />
<path d="M515.0,362.0 C516.5,361.2 522.1,370.7 524.0,375.0 C525.9,379.3 526.8,383.8 526.5,388.0 C526.2,392.2 522.6,396.7 522.0,400.0 C521.4,403.3 522.2,405.3 523.0,408.0 C523.8,410.7 526.5,413.3 527.0,416.0 C527.5,418.7 527.2,421.0 526.0,424.0 C524.8,427.0 522.4,430.5 520.0,434.0 C517.6,437.5 513.0,447.3 511.8,445.0 C510.6,442.7 512.6,427.5 513.0,420.0 C513.4,412.5 513.7,406.7 514.0,400.0 C514.3,393.3 514.8,386.3 515.0,380.0 C515.2,373.7 513.5,362.8 515.0,362.0Z" fill="#c8262e" stroke="#3a2a36" stroke-width="0.9" stroke-linejoin="round" />
<path d="M627.5,385.0 C625.8,385.0 622.0,394.2 620.0,400.0 C618.0,405.8 615.9,413.8 615.6,420.0 C615.4,426.2 617.1,431.8 618.5,437.0 C619.9,442.2 622.4,450.5 624.0,451.0 C625.6,451.5 626.8,445.2 628.0,440.0 C629.2,434.8 630.7,426.7 631.0,420.0 C631.3,413.3 630.6,405.8 630.0,400.0 C629.4,394.2 629.2,385.0 627.5,385.0Z" fill="#c8262e" stroke="#3a2a36" stroke-width="0.9" stroke-linejoin="round" />
<path d="M511.8,445 C524,434 544,426.5 566,427 C590,427.5 612,437 624,451 C612,457 592,460.5 566,460.5 C544,460.5 524,456 511.8,445 Z" fill="#c1272e" stroke="#3a2a36" stroke-width="0.8"/>
<path d="M519.9,461.0 C520.0,463.6 519.5,472.0 520.8,476.8 C522.0,481.6 524.0,485.9 527.4,489.6 C530.8,493.3 535.4,496.6 541.0,498.8 C546.6,501.0 555.1,502.7 561.2,502.6 C567.3,502.5 572.5,501.1 577.7,498.4 C582.9,495.7 588.1,491.0 592.4,486.5 C596.7,482.0 600.6,475.7 603.5,471.5 C606.4,467.3 608.8,463.0 609.8,461.3" fill="none" stroke="#3a2a36" stroke-width="10.9" stroke-linecap="round"/>
<path d="M519.9,461.0 C520.0,463.6 519.5,472.0 520.8,476.8 C522.0,481.6 524.0,485.9 527.4,489.6 C530.8,493.3 535.4,496.6 541.0,498.8 C546.6,501.0 555.1,502.7 561.2,502.6 C567.3,502.5 572.5,501.1 577.7,498.4 C582.9,495.7 588.1,491.0 592.4,486.5 C596.7,482.0 600.6,475.7 603.5,471.5 C606.4,467.3 608.8,463.0 609.8,461.3" fill="none" stroke="#f6a63a" stroke-width="9.2" stroke-linecap="round"/>
</g>
<g id="leaders" stroke="#3a2a36" stroke-width="1.15" fill="none">
<line x1="182.4" y1="62.5" x2="146" y2="130"/>
<line x1="189" y1="62.5" x2="178.5" y2="105.4"/>
<line x1="196.5" y1="62.5" x2="205.5" y2="92.5"/>
<line x1="205.5" y1="61" x2="232.5" y2="82.5"/>
<line x1="212.5" y1="56" x2="276" y2="80"/>
<line x1="156" y1="85" x2="232.5" y2="113.75"/>
<line x1="156" y1="88.75" x2="202.5" y2="121"/>
<line x1="105" y1="136" x2="170" y2="142.5"/>
<line x1="105" y1="147.4" x2="138" y2="164.5"/>
<line x1="105" y1="201" x2="154" y2="168"/>
<line x1="104" y1="236" x2="153" y2="190"/>
<line x1="105" y1="264" x2="220.5" y2="237"/>
<line x1="105" y1="295.5" x2="175.5" y2="274.5"/>
<line x1="105" y1="334.6" x2="157.5" y2="348.4"/>
<line x1="105" y1="380.5" x2="183" y2="394.6"/>
<line x1="105" y1="424.6" x2="151.5" y2="424"/>
<line x1="310" y1="49" x2="284" y2="93"/>
<line x1="305" y1="83" x2="290" y2="95"/>
<line x1="313" y1="104" x2="295" y2="108"/>
<line x1="304" y1="121" x2="280" y2="107"/>
<line x1="304" y1="136" x2="284" y2="119"/>
<line x1="307" y1="150" x2="275" y2="139"/>
<line x1="308" y1="192" x2="283" y2="179"/>
<line x1="299" y1="218" x2="187" y2="147"/>
<line x1="301" y1="238" x2="246" y2="193"/>
<line x1="289" y1="267" x2="200" y2="257"/>
<line x1="326" y1="298.5" x2="274" y2="290"/>
<line x1="312" y1="318.5" x2="254" y2="303"/>
<line x1="312" y1="346.8" x2="233" y2="325"/>
<line x1="344" y1="373" x2="247" y2="358"/>
<line x1="344" y1="396" x2="252.4" y2="389"/>
<line x1="354" y1="434" x2="255" y2="423"/>
<line x1="354" y1="478.3" x2="250" y2="477.6"/>
<line x1="562.2" y1="53.6" x2="494.7" y2="80.8"/>
<line x1="564.8" y1="62.7" x2="539.6" y2="83.4"/>
<line x1="575.2" y1="62.7" x2="566" y2="93"/>
<line x1="581.7" y1="62.7" x2="593.4" y2="104.2"/>
<line x1="586.9" y1="62.7" x2="625.8" y2="128.9"/>
<line x1="616.8" y1="82.7" x2="540" y2="114.6"/>
<line x1="616.8" y1="87.3" x2="573.9" y2="121.6"/>
<line x1="667.4" y1="117.2" x2="603.8" y2="139.3"/>
<line x1="667.4" y1="130.2" x2="632" y2="165"/>
<line x1="664.8" y1="174.7" x2="609" y2="160.4"/>
<line x1="664.8" y1="199.4" x2="596" y2="178.6"/>
<line x1="664.8" y1="234.4" x2="645.3" y2="212.3"/>
<line x1="666" y1="271.6" x2="577.8" y2="270.8"/>
<line x1="664.8" y1="300.8" x2="628.4" y2="283.9"/>
<line x1="666" y1="370.4" x2="603.8" y2="368.3"/>
<line x1="664.8" y1="398.2" x2="594.7" y2="404.7"/>
<line x1="665" y1="424" x2="622" y2="424"/>
<line x1="464" y1="50" x2="486" y2="87"/>
<line x1="467" y1="85" x2="509" y2="99"/>
<line x1="461" y1="103" x2="493" y2="115"/>
<line x1="450" y1="121" x2="477" y2="118.6"/>
<line x1="461" y1="148" x2="512" y2="115"/>
<line x1="471" y1="173" x2="501.6" y2="143"/>
<line x1="470" y1="215" x2="526" y2="192"/>
<line x1="468" y1="248" x2="547" y2="238"/>
<line x1="482" y1="265" x2="552" y2="252"/>
<line x1="444" y1="297.7" x2="497" y2="289"/>
<line x1="460" y1="321.6" x2="522" y2="307"/>
<line x1="458" y1="349" x2="531" y2="327"/>
<line x1="427" y1="373" x2="541" y2="360"/>
<line x1="427" y1="396.4" x2="518" y2="392"/>
<line x1="419.3" y1="433.8" x2="517" y2="421"/>
<line x1="419.3" y1="478.4" x2="521" y2="475.5"/>
</g>
<g id="labels" font-size="9.8" fill="#3b2e3a" stroke="#3b2e3a" stroke-width="0.3">
<text transform="translate(172,47.1) skewX(-12)" textLength="34.0" lengthAdjust="spacingAndGlyphs">Лобные</text>
<text transform="translate(175,58.5) skewX(-12)" textLength="31.0" lengthAdjust="spacingAndGlyphs">пазухи</text>
<text transform="translate(129.6,90.0) skewX(-12)" textLength="18.4" lengthAdjust="spacingAndGlyphs">Глаз</text>
<text transform="translate(62,108.9) skewX(-12)" textLength="55.5" lengthAdjust="spacingAndGlyphs">Бессонница</text>
<text transform="translate(64,138.0) skewX(-12)" textLength="13.6" lengthAdjust="spacingAndGlyphs">Ухо</text>
<text transform="translate(41,150.0) skewX(-12)" textLength="58.5" lengthAdjust="spacingAndGlyphs">(Миндалины)</text>
<text transform="translate(29,199.1) skewX(-12)" textLength="70.0" lengthAdjust="spacingAndGlyphs">Трапецевидная</text>
<text transform="translate(48,211.5) skewX(-12)" textLength="32.0" lengthAdjust="spacingAndGlyphs">мышца</text>
<text transform="translate(73,245.9) skewX(-12)" textLength="26.0" lengthAdjust="spacingAndGlyphs">Плечо</text>
<text transform="translate(49,265.1) skewX(-12)" textLength="50.0" lengthAdjust="spacingAndGlyphs">Солнечное</text>
<text transform="translate(51,276.5) skewX(-12)" textLength="47.0" lengthAdjust="spacingAndGlyphs">сплетение</text>
<text transform="translate(59,296.9) skewX(-12)" textLength="40.0" lengthAdjust="spacingAndGlyphs">Желчный</text>
<text transform="translate(63,308.0) skewX(-12)" textLength="32.0" lengthAdjust="spacingAndGlyphs">пузырь</text>
<text transform="translate(31.5,335.1) skewX(-12)" textLength="54.5" lengthAdjust="spacingAndGlyphs">Восходящая</text>
<text transform="translate(18,348.0) skewX(-12)" textLength="81.0" lengthAdjust="spacingAndGlyphs">ободочная кишка</text>
<text transform="translate(66.6,378.9) skewX(-12)" textLength="32.4" lengthAdjust="spacingAndGlyphs">Слепая</text>
<text transform="translate(69.6,390.5) skewX(-12)" textLength="26.9" lengthAdjust="spacingAndGlyphs">кишка</text>
<text transform="translate(61,424.5) skewX(-12)" textLength="32.0" lengthAdjust="spacingAndGlyphs">Колено</text>
<text transform="translate(55,436.5) skewX(-12)" textLength="44.0" lengthAdjust="spacingAndGlyphs">и ягодицы</text>
<text transform="translate(305.8,43.2) skewX(-12)" textLength="157.4" lengthAdjust="spacingAndGlyphs">Голова (Головной мозг, мозжечок)</text>
<text transform="translate(314.9,83.9) skewX(-12)" textLength="147.8" lengthAdjust="spacingAndGlyphs">Шишковидная железа (эпифиз)</text>
<text transform="translate(317.5,106.5) skewX(-12)" textLength="16.5" lengthAdjust="spacingAndGlyphs">Нос</text>
<text transform="translate(307,125.5) skewX(-12)" textLength="39.3" lengthAdjust="spacingAndGlyphs">Гипофиз</text>
<text transform="translate(307,141.1) skewX(-12)" textLength="47.6" lengthAdjust="spacingAndGlyphs">Мозжечок</text>
<text transform="translate(310,156.5) skewX(-12)" textLength="29.8" lengthAdjust="spacingAndGlyphs">Голова</text>
<text transform="translate(414.9,104.7) skewX(-12)" textLength="40.5" lengthAdjust="spacingAndGlyphs">Гипофиз</text>
<text transform="translate(425.3,125.5) skewX(-12)" textLength="17.1" lengthAdjust="spacingAndGlyphs">Нос</text>
<text transform="translate(408.9,153.3) skewX(-12)" textLength="46.5" lengthAdjust="spacingAndGlyphs">Мозжечок</text>
<text transform="translate(345.3,178.7) skewX(-12)" textLength="120.5" lengthAdjust="spacingAndGlyphs">Горло, кровяное давление</text>
<text transform="translate(309.7,196.9) skewX(-12)" textLength="121.1" lengthAdjust="spacingAndGlyphs">Горло, кровяное давление</text>
<text transform="translate(308.4,209.9) skewX(-12)" textLength="92.5" lengthAdjust="spacingAndGlyphs">Щитовидная железа</text>
<text transform="translate(414,211.1) skewX(-12)" textLength="41.4" lengthAdjust="spacingAndGlyphs">Пищевод</text>
<text transform="translate(303.2,224.1) skewX(-12)" textLength="74.3" lengthAdjust="spacingAndGlyphs">Лимфатические</text>
<text transform="translate(406.6,224.9) skewX(-12)" textLength="57.9" lengthAdjust="spacingAndGlyphs">(Щитовидная</text>
<text transform="translate(324.5,234.5) skewX(-12)" textLength="30.9" lengthAdjust="spacingAndGlyphs">железы</text>
<text transform="translate(417.5,237.1) skewX(-12)" textLength="35.3" lengthAdjust="spacingAndGlyphs">железа)</text>
<text transform="translate(300.6,247.5) skewX(-12)" textLength="39.2" lengthAdjust="spacingAndGlyphs">Пищевод</text>
<text transform="translate(401.4,251.5) skewX(-12)" textLength="60.5" lengthAdjust="spacingAndGlyphs">Левый бронх</text>
<text transform="translate(294.6,267.5) skewX(-12)" textLength="66.0" lengthAdjust="spacingAndGlyphs">Надпочечники</text>
<text transform="translate(376.4,269.5) skewX(-12)" textLength="101.1" lengthAdjust="spacingAndGlyphs">Солнечное сплетение</text>
<text transform="translate(331.2,299.0) skewX(-12)" textLength="108.6" lengthAdjust="spacingAndGlyphs">Поджелудочная железа</text>
<text transform="translate(320,324.1) skewX(-12)" textLength="131.5" lengthAdjust="spacingAndGlyphs">Двенадцатиперстная кишка</text>
<text transform="translate(313.6,351.9) skewX(-12)" textLength="142.4" lengthAdjust="spacingAndGlyphs">Поперечная ободочная кишка</text>
<text transform="translate(357.2,375.3) skewX(-12)" textLength="54.1" lengthAdjust="spacingAndGlyphs">Мочеточник</text>
<text transform="translate(347.3,398.7) skewX(-12)" textLength="75.1" lengthAdjust="spacingAndGlyphs">Мочевой пузырь</text>
<text transform="translate(369.4,436.9) skewX(-12)" textLength="31.5" lengthAdjust="spacingAndGlyphs">Копчик</text>
<text transform="translate(362,481.8) skewX(-12)" textLength="46.0" lengthAdjust="spacingAndGlyphs">Геморрой</text>
<text transform="translate(564,46.3) skewX(-12)" textLength="34.0" lengthAdjust="spacingAndGlyphs">Лобные</text>
<text transform="translate(566,58.0) skewX(-12)" textLength="31.6" lengthAdjust="spacingAndGlyphs">пазухи</text>
<text transform="translate(622,89.1) skewX(-12)" textLength="19.7" lengthAdjust="spacingAndGlyphs">Глаз</text>
<text transform="translate(671.3,125.5) skewX(-12)" textLength="76.4" lengthAdjust="spacingAndGlyphs">Ухо (миндалины)</text>
<text transform="translate(671.3,143.2) skewX(-12)" textLength="55.4" lengthAdjust="spacingAndGlyphs">Бессонница</text>
<text transform="translate(671.3,175.2) skewX(-12)" textLength="70.4" lengthAdjust="spacingAndGlyphs">Трапецевидная</text>
<text transform="translate(690.3,186.3) skewX(-12)" textLength="31.9" lengthAdjust="spacingAndGlyphs">мышца</text>
<text transform="translate(671.3,203.7) skewX(-12)" textLength="76.4" lengthAdjust="spacingAndGlyphs">Лимфатические</text>
<text transform="translate(691.6,215.5) skewX(-12)" textLength="33.2" lengthAdjust="spacingAndGlyphs">железы</text>
<text transform="translate(671.3,241.5) skewX(-12)" textLength="26.3" lengthAdjust="spacingAndGlyphs">Плечо</text>
<text transform="translate(671.3,275.2) skewX(-12)" textLength="63.9" lengthAdjust="spacingAndGlyphs">Надпочечники</text>
<text transform="translate(671.3,306.5) skewX(-12)" textLength="49.7" lengthAdjust="spacingAndGlyphs">Селезёнка</text>
<text transform="translate(671.3,374.0) skewX(-12)" textLength="49.7" lengthAdjust="spacingAndGlyphs">Селезёнка</text>
<text transform="translate(684.3,394.8) skewX(-12)" textLength="56.1" lengthAdjust="spacingAndGlyphs">Нисходящая</text>
<text transform="translate(671.3,406.5) skewX(-12)" textLength="82.1" lengthAdjust="spacingAndGlyphs">ободочная кишка</text>
<text transform="translate(671.3,427.5) skewX(-12)" textLength="80.7" lengthAdjust="spacingAndGlyphs">Колено и ягодицы</text>
<text transform="translate(175,533.1) skewX(-12)" textLength="58.6" lengthAdjust="spacingAndGlyphs">Правая нога</text>
<text transform="translate(538.6,532.9) skewX(-12)" textLength="52.0" lengthAdjust="spacingAndGlyphs">Левая нога</text>
<text transform="translate(203.6,394.1) skewX(-12)" textLength="30.4" lengthAdjust="spacingAndGlyphs">Тонкий</text>
<text transform="translate(196.7,405.5) skewX(-12)" textLength="44.3" lengthAdjust="spacingAndGlyphs">кишечник</text>
<text transform="translate(554.3,363.9) skewX(-12)" textLength="30.2" lengthAdjust="spacingAndGlyphs">Тонкий</text>
<text transform="translate(547.2,375.1) skewX(-12)" textLength="44.6" lengthAdjust="spacingAndGlyphs">кишечник</text>
</g>
<g id="labels-onfoot" font-size="9.8">
<text transform="translate(204.5,190.3) skewX(-12)" fill="#4f4414" stroke="#4f4414" stroke-width="0.45" textLength="34.0" lengthAdjust="spacingAndGlyphs">Правый</text>
<text transform="translate(208,201.0) skewX(-12)" fill="#4f4414" stroke="#4f4414" stroke-width="0.45" textLength="27.8" lengthAdjust="spacingAndGlyphs">бронх</text>
<text transform="translate(155,229.5) skewX(-12)" fill="#5c1722" stroke="#5c1722" stroke-width="0.45" textLength="32.0" lengthAdjust="spacingAndGlyphs">Печень</text>
<text transform="translate(170.4,441.5) skewX(-12)" fill="#5c1722" stroke="#5c1722" stroke-width="0.25" textLength="77.6" lengthAdjust="spacingAndGlyphs">Половые органы</text>
<text transform="translate(177.5,453.5) skewX(-12)" fill="#5c1722" stroke="#5c1722" stroke-width="0.25" textLength="62.5" lengthAdjust="spacingAndGlyphs">(бессонница)</text>
<text transform="translate(536.5,198.1) skewX(-12)" fill="#4f4414" stroke="#4f4414" stroke-width="0.45" textLength="34.5" lengthAdjust="spacingAndGlyphs">Сердце</text>
<text transform="translate(584,228.7) skewX(-12)" fill="#5c1722" stroke="#5c1722" stroke-width="0.45" textLength="30.6" lengthAdjust="spacingAndGlyphs">Печень</text>
<text transform="translate(501.3,253.7) skewX(-12)" fill="#3a2428" stroke="#3a2428" stroke-width="0.25" textLength="35.9" lengthAdjust="spacingAndGlyphs">Сердце</text>
<text transform="translate(523.3,440.5) skewX(-12)" fill="#5c1722" stroke="#5c1722" stroke-width="0.25" textLength="75.7" lengthAdjust="spacingAndGlyphs">Половые органы</text>
<text transform="translate(530.4,452.9) skewX(-12)" fill="#5c1722" stroke="#5c1722" stroke-width="0.25" textLength="62.6" lengthAdjust="spacingAndGlyphs">(бессонница)</text>
</g>
</svg></body></html>
